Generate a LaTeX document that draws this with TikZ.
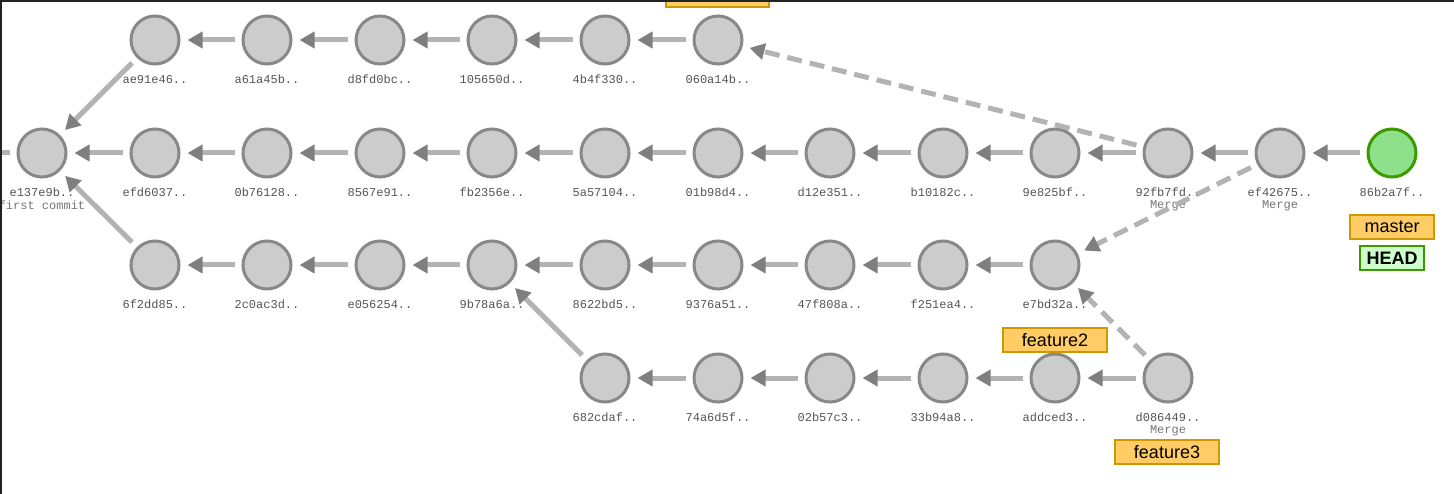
\documentclass[tikz,border=0pt]{standalone}
\usepackage{fontspec}
\setmonofont{Liberation Mono}
\newfontfamily\boxfont{Liberation Sans}
\usetikzlibrary{arrows.meta}
\definecolor{cfill}{HTML}{CCCCCC}
\definecolor{cstroke}{HTML}{888888}
\definecolor{edgec}{HTML}{B3B3B3}
\definecolor{tipc}{HTML}{7F7F7F}
\definecolor{hashc}{HTML}{555555}
\definecolor{mergec}{HTML}{777777}
\definecolor{headfill}{HTML}{8EE08A}
\definecolor{headstroke}{HTML}{3A9A00}
\definecolor{brfill}{HTML}{FFCC66}
\definecolor{brstroke}{HTML}{CC9900}
\definecolor{hdfill}{HTML}{CCFFCC}
\definecolor{framec}{HTML}{222222}
\tikzset{
  commit/.style={circle, draw=cstroke, fill=cfill, line width=3pt, minimum size=48pt, inner sep=0pt},
  headcommit/.style={commit, draw=headstroke, fill=headfill},
  hash/.style={font=\ttfamily\fontsize{12}{12}\selectfont, text=hashc, inner sep=0pt},
  msg/.style={font=\ttfamily\fontsize{12}{12}\selectfont, text=mergec, inner sep=0pt},
  edge/.style={line width=5pt, draw=edgec, shorten >=7pt, shorten <=7pt,
    -{Triangle[length=15pt,width=16pt,color=tipc]}},
  dedge/.style={edge, dash pattern=on 15pt off 8pt},
  plainedge/.style={line width=5pt, draw=edgec, shorten <=7pt},
  branch/.style={draw=brstroke, fill=brfill, line width=2pt, minimum height=24pt,
    inner sep=0pt, font=\boxfont\fontsize{18}{18}\selectfont, text=black},
  headbox/.style={draw=headstroke, fill=hdfill, line width=2pt, minimum height=24pt,
    inner sep=0pt, font=\boxfont\bfseries\fontsize{18}{18}\selectfont, text=black},
}
\begin{document}
\begin{tikzpicture}[x=1pt,y=-1pt]
\useasboundingbox (0,0) rectangle (1454,494);
\fill[white] (0,0) rectangle (1454,494);
\clip (0,0) rectangle (1454,494);
% row 0
\node[commit] (ae91e46) at (155,40) {};
\node[commit] (a61a45b) at (267,40) {};
\node[commit] (d8fd0bc) at (380,40) {};
\node[commit] (105650d) at (492,40) {};
\node[commit] (4b4f330) at (605,40) {};
\node[commit] (060a14b) at (718,40) {};
% row 1
\node[commit] (e137e9b) at (42,153) {};
\node[commit] (efd6037) at (155,153) {};
\node[commit] (0b76128) at (267,153) {};
\node[commit] (8567e91) at (380,153) {};
\node[commit] (fb2356e) at (492,153) {};
\node[commit] (5a57104) at (605,153) {};
\node[commit] (01b98d4) at (718,153) {};
\node[commit] (d12e351) at (830,153) {};
\node[commit] (b10182c) at (943,153) {};
\node[commit] (9e825bf) at (1055,153) {};
\node[commit] (92fb7fd) at (1168,153) {};
\node[commit] (ef42675) at (1280,153) {};
\node[headcommit] (86b2a7f) at (1392,153) {};
% row 2
\node[commit] (6f2dd85) at (155,265) {};
\node[commit] (2c0ac3d) at (267,265) {};
\node[commit] (e056254) at (380,265) {};
\node[commit] (9b78a6a) at (492,265) {};
\node[commit] (8622bd5) at (605,265) {};
\node[commit] (9376a51) at (718,265) {};
\node[commit] (47f808a) at (830,265) {};
\node[commit] (f251ea4) at (943,265) {};
\node[commit] (e7bd32a) at (1055,265) {};
% row 3
\node[commit] (682cdaf) at (605,378) {};
\node[commit] (74a6d5f) at (718,378) {};
\node[commit] (02b57c3) at (830,378) {};
\node[commit] (33b94a8) at (943,378) {};
\node[commit] (addced3) at (1055,378) {};
\node[commit] (d086449) at (1168,378) {};
% hash labels
\foreach \n/\t in {ae91e46/ae91e46.., a61a45b/a61a45b.., d8fd0bc/d8fd0bc.., 105650d/105650d..,
  4b4f330/4b4f330.., 060a14b/060a14b.., e137e9b/e137e9b.., efd6037/efd6037.., 0b76128/0b76128..,
  8567e91/8567e91.., fb2356e/fb2356e.., 5a57104/5a57104.., 01b98d4/01b98d4.., d12e351/d12e351..,
  b10182c/b10182c.., 9e825bf/9e825bf.., 92fb7fd/92fb7fd.., ef42675/ef42675.., 86b2a7f/86b2a7f..,
  6f2dd85/6f2dd85.., 2c0ac3d/2c0ac3d.., e056254/e056254.., 9b78a6a/9b78a6a.., 8622bd5/8622bd5..,
  9376a51/9376a51.., 47f808a/47f808a.., f251ea4/f251ea4.., e7bd32a/e7bd32a.., 682cdaf/682cdaf..,
  74a6d5f/74a6d5f.., 02b57c3/02b57c3.., 33b94a8/33b94a8.., addced3/addced3.., d086449/d086449..}
  \node[hash] (l-\n) at ([yshift=-39.5pt]\n.center) {\t};
\node[msg] (m-e137e9b) at ([yshift=-52pt]e137e9b.center) {first commit};
\node[msg] (m-92fb7fd) at ([yshift=-53pt]92fb7fd.center) {Merge};
\node[msg] (m-ef42675) at ([yshift=-53pt]ef42675.center) {Merge};
\node[msg] (m-d086449) at ([yshift=-53pt]d086449.center) {Merge};
% edges row 0
\draw[edge] (060a14b) -- (4b4f330);
\draw[edge] (4b4f330) -- (105650d);
\draw[edge] (105650d) -- (d8fd0bc);
\draw[edge] (d8fd0bc) -- (a61a45b);
\draw[edge] (a61a45b) -- (ae91e46);
\draw[edge] (ae91e46) -- (e137e9b);
% row 1
\coordinate (offleft) at (-30,153);
\draw[plainedge] (e137e9b) -- (offleft);
\draw[edge] (86b2a7f) -- (ef42675);
\draw[edge] (ef42675) -- (92fb7fd);
\draw[edge] (92fb7fd) -- (9e825bf);
\draw[edge] (9e825bf) -- (b10182c);
\draw[edge] (b10182c) -- (d12e351);
\draw[edge] (d12e351) -- (01b98d4);
\draw[edge] (01b98d4) -- (5a57104);
\draw[edge] (5a57104) -- (fb2356e);
\draw[edge] (fb2356e) -- (8567e91);
\draw[edge] (8567e91) -- (0b76128);
\draw[edge] (0b76128) -- (efd6037);
\draw[edge] (efd6037) -- (e137e9b);
% row 2
\draw[edge] (e7bd32a) -- (f251ea4);
\draw[edge] (f251ea4) -- (47f808a);
\draw[edge] (47f808a) -- (9376a51);
\draw[edge] (9376a51) -- (8622bd5);
\draw[edge] (8622bd5) -- (9b78a6a);
\draw[edge] (9b78a6a) -- (e056254);
\draw[edge] (e056254) -- (2c0ac3d);
\draw[edge] (2c0ac3d) -- (6f2dd85);
\draw[edge] (6f2dd85) -- (e137e9b);
% row 3
\draw[edge] (d086449) -- (addced3);
\draw[edge] (addced3) -- (33b94a8);
\draw[edge] (33b94a8) -- (02b57c3);
\draw[edge] (02b57c3) -- (74a6d5f);
\draw[edge] (74a6d5f) -- (682cdaf);
\draw[edge] (682cdaf) -- (9b78a6a);
% merges
\draw[dedge] (92fb7fd) -- (060a14b);
\draw[dedge] (ef42675) -- (e7bd32a);
\draw[dedge] (d086449) -- (e7bd32a);
% branch labels
\node[branch, minimum width=103pt] (toplabel) at (717.5,-5) {};
\node[branch, minimum width=84pt] (master) at (1392,227) {master};
\node[headbox, minimum width=64pt] (HEAD) at (1392,258) {HEAD};
\node[branch, minimum width=104pt] (feature2) at (1055,340) {feature2};
\node[branch, minimum width=104pt] (feature3) at (1167,452) {feature3};
% frame
\fill[framec] (0,0) rectangle (1454,2);
\fill[framec] (0,0) rectangle (1.5,494);
\end{tikzpicture}
\end{document}
